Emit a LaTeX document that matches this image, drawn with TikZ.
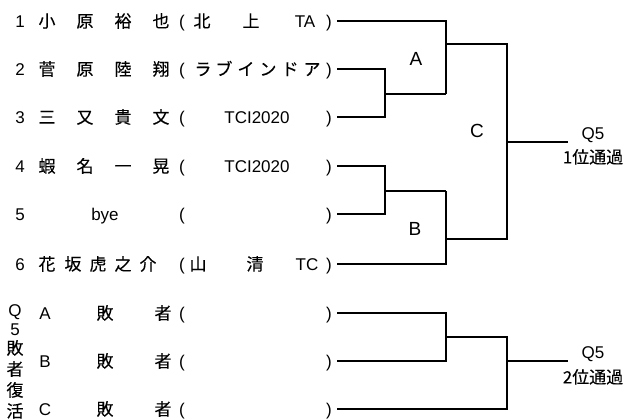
\documentclass[tikz,border=0pt]{standalone}
\usepackage{fontspec}
\setmainfont{Liberation Sans}
\newfontfamily\jpfont[FakeBold=0.2]{Noto Sans CJK JP}
\begin{document}
\begin{tikzpicture}[x=1pt,y=-1pt,
  tx/.style={inner sep=0pt,anchor=base,yshift=-6.4pt,font=\jpfont\fontsize{17}{17}\selectfont},
  lt/.style={inner sep=0pt,anchor=base,yshift=-6.1pt,font=\fontsize{17}{17}\selectfont},
  lb/.style={inner sep=0pt,anchor=base,yshift=-6.8pt,font=\fontsize{19}{19}\selectfont},
  br/.style={line width=1.8pt,line join=miter}]
\useasboundingbox (0,0) rectangle (629,419);
% ---- row texts
\foreach \y/\n/\a/\b/\c/\d [count=\i] in {21/1/小/原/裕/也, 69/2/菅/原/陸/翔, 117/3/三/又/貴/文, 166/4/蝦/名/一/晃}{
  \node[lt] (n\i) at (20,\y) {\n};
  \node[tx] (na\i) at (47,\y) {\a};
  \node[tx] (nb\i) at (85,\y) {\b};
  \node[tx] (nc\i) at (123,\y) {\c};
  \node[tx] (nd\i) at (161,\y) {\d};
}
\foreach \y [count=\i] in {21,69,117,166,214,264,313,361,409}{
  \node[lt] (o\i) at (182,\y) {(};
  \node[lt] (c\i) at (329,\y) {)};
  \coordinate (s\i) at (337,\y);
}
% row 1 team
\node[tx] (t1a) at (202,21) {北};
\node[tx] (t1b) at (251,21) {上};
\node[lt] (t1c) at (305,21) {TA};
% row 2 team
\foreach \k/\x in {ラ/203,ブ/224,イ/246,ン/268,ド/290,ア/312}{
  \node[tx] (t2\x) at (\x,69) {\k};
}
% rows 3,4
\node[lt] (t3) at (257,117) {TCI2020};
\node[lt] (t4) at (257,166) {TCI2020};
% row 5
\node[lt] (n5) at (20,214) {5};
\node[lt] (bye) at (105,214) {bye};
% row 6
\node[lt] (n6) at (20,264) {6};
\foreach \k/\x in {花/47,坂/73,虎/98,之/123,介/148}{
  \node[tx] (m\x) at (\x,264) {\k};
}
\node[tx] (t6a) at (198,264) {山};
\node[tx] (t6b) at (255,264) {清};
\node[lt] (t6c) at (307,264) {TC};
% losers' rows
\foreach \y/\l [count=\i from 7] in {313/A,361/B,409/C}{
  \node[lt] (L\i) at (45,\y) {\l};
  \node[tx] (La\i) at (105,\y) {敗};
  \node[tx] (Lb\i) at (163,\y) {者};
}
% vertical column
\node[lt] (v1) at (15,310) {Q};
\node[lt] (v2) at (15,329) {5};
\foreach \k/\y [count=\i from 3] in {敗/348,者/369,復/390,活/411}{
  \node[tx] (v\i) at (15,\y) {\k};
}
% ---- bracket coordinates
\coordinate (j23) at (385,94);
\coordinate (ja) at (446,94);
\coordinate (aout) at (446,44);
\coordinate (j45) at (385,191);
\coordinate (jb) at (446,191);
\coordinate (bout) at (446,239);
\coordinate (jc) at (507,142);
\coordinate (w1) at (568,142);
\coordinate (jq) at (446,337);
\coordinate (jf) at (507,361);
\coordinate (w2) at (568,361);
% ---- connectors
\draw[br] (s1) -| (ja);
\draw[br] (s2) -| (j23) |- (s3);
\draw[br] (j23) -- (ja);
\draw[br] (s4) -| (j45) |- (s5);
\draw[br] (j45) -- (jb);
\draw[br] (s6) -| (jb);
\draw[br] (aout) -| (jc);
\draw[br] (bout) -| (jc);
\draw[br] (jc) -- (w1);
\draw[br] (s7) -| (jq) |- (s8);
\draw[br] (jq) -| (jf);
\draw[br] (s9) -| (jf);
\draw[br] (jf) -- (w2);
% ---- labels
\node[lb] (lA) at (416,59) {A};
\node[lb] (lB) at (415,229) {B};
\node[lb] (lC) at (477,131) {C};
\node[lt] (q1) at (593,133) {Q5};
\node[tx] (q1b) at (593,157) {1位通過};
\node[lt] (q2) at (593,352) {Q5};
\node[tx] (q2b) at (593,377) {2位通過};
\end{tikzpicture}
\end{document}
